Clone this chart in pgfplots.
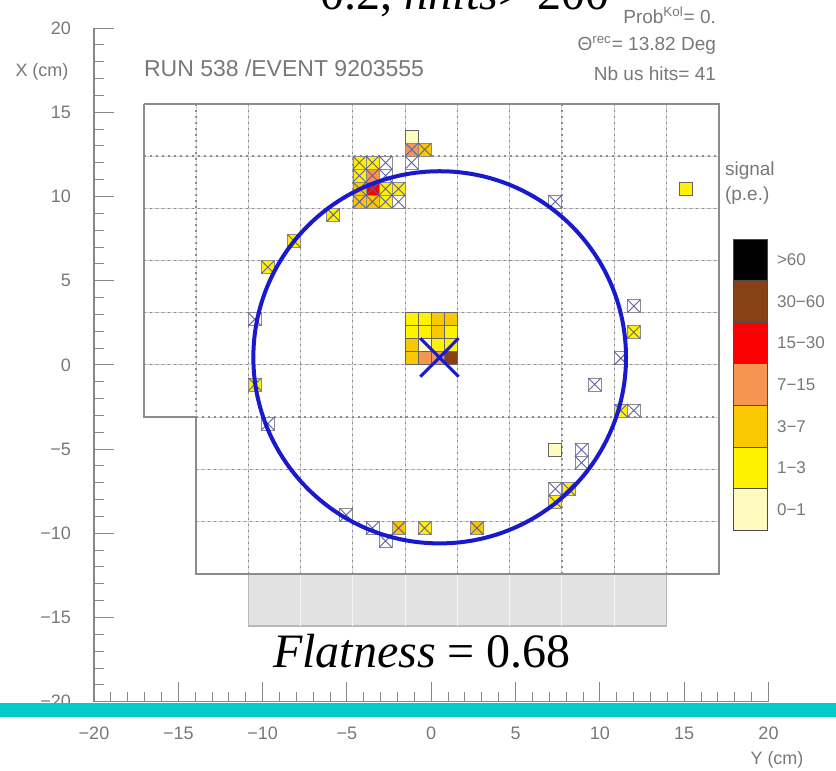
\documentclass[border=0pt]{standalone}
\usepackage{pgfplots}
\pgfplotsset{compat=1.18}
\usepackage{pgfplotstable}
\usepackage{fontspec}
\setmainfont{Liberation Sans}
\newfontfamily\serif{Liberation Serif}
\definecolor{axgray}{RGB}{135,135,135}
\definecolor{txtgray}{RGB}{120,120,120}
\definecolor{gridgray}{RGB}{140,140,140}
\definecolor{lightgrid}{RGB}{212,212,212}
\definecolor{boxgray}{RGB}{226,226,226}
\definecolor{pe0}{RGB}{255,250,190}
\definecolor{pe1}{RGB}{255,242,0}
\definecolor{pe2}{RGB}{250,200,0}
\definecolor{pe3}{RGB}{245,150,80}
\definecolor{pe4}{RGB}{250,0,0}
\definecolor{pe5}{RGB}{135,65,20}
\definecolor{pe6}{RGB}{0,0,0}
\definecolor{ringblue}{RGB}{25,25,205}
\definecolor{crossblue}{RGB}{95,95,160}
\definecolor{tealbar}{RGB}{0,204,204}

\pgfplotstableread{
Y X cls
-1.16 2.71 b
-0.39 2.71 b
0.39 2.71 c
1.16 2.71 c
-1.16 1.94 b
-0.39 1.94 b
0.39 1.94 c
1.16 1.94 b
-1.16 1.16 c
-0.39 1.16 a
0.39 1.16 b
1.16 1.16 b
-1.16 0.39 c
-0.39 0.39 d
0.39 0.39 d
1.16 0.39 f
-4.26 12.01 b
-3.49 12.01 b
-4.26 11.24 b
-3.49 11.24 d
-4.26 10.46 c
-3.49 10.46 e
-2.71 10.46 b
-1.94 10.46 b
-4.26 9.69 c
-3.49 9.69 c
-2.71 9.69 b
-1.16 13.56 a
-1.16 12.79 d
-0.39 12.79 c
-5.81 8.91 b
-8.14 7.36 b
-9.69 5.81 b
-10.46 -1.16 b
-1.94 -9.69 c
-0.39 -9.69 b
2.71 -9.69 c
8.14 -7.36 b
7.36 -8.14 b
7.36 -5.04 a
11.24 -2.71 b
12.01 1.94 b
15.11 10.46 b
}\padtable

\pgfplotstableread{
Y X
-4.26 12.01
-3.49 12.01
-2.71 12.01
-4.26 11.24
-3.49 11.24
-2.71 11.24
-4.26 10.46
-3.49 10.46
-2.71 10.46
-1.94 10.46
-4.26 9.69
-3.49 9.69
-2.71 9.69
-1.94 9.69
-1.16 12.79
-0.39 12.79
-1.16 12.01
-5.81 8.91
-8.14 7.36
-9.69 5.81
-10.46 2.71
-10.46 -1.16
-9.69 -3.49
-5.04 -8.91
-3.49 -9.69
-2.71 -10.46
-1.94 -9.69
-0.39 -9.69
2.71 -9.69
7.36 -7.36
8.14 -7.36
7.36 -8.14
8.91 -5.04
8.91 -5.81
9.69 -1.16
11.24 -2.71
12.01 -2.71
11.24 0.39
12.01 1.94
12.01 3.49
7.36 9.69
}\crosstable

\begin{document}
\begin{tikzpicture}[x=0.5pt,y=0.5pt]
\useasboundingbox (-94,-69.3) rectangle (742,701.7);
\begin{axis}[
  at={(0,0)}, anchor=south west,
  scale only axis, width=337.25pt, height=336.8pt,
  xmin=-20,xmax=20,ymin=-20,ymax=20,
  axis lines=left, axis line style={-, axgray, line width=0.6pt},
  tick align=inside,
  major tick length=10pt, minor tick length=5pt,
  tick style={axgray, line width=0.5pt},
  xtick={-20,-15,...,20}, ytick={-20,-15,...,20},
  minor tick num=4,
  xticklabels={−20,−15,−10,−5,0,5,10,15,20},
  yticklabels={−20,−15,−10,−5,0,5,10,15,20},
  ticklabel style={font=\fontsize{9}{10}\selectfont, text=txtgray},
  xticklabel style={yshift=-9pt},
  yticklabel style={xshift=-8pt},
  unbounded coords=jump,
  clip=false,
  clip marker paths=true,
]
% shaded region below the detector
\addplot[fill=boxgray, draw=gray!55, line width=0.6pt] coordinates {(-10.85,-12.4)(13.95,-12.4)(13.95,-15.5)(-10.85,-15.5)(-10.85,-12.4)};
\addplot[white!60!boxgray, line width=0.5pt] coordinates {
(-7.75,-12.4)(-7.75,-15.5) (nan,nan)
(-4.65,-12.4)(-4.65,-15.5) (nan,nan)
(-1.55,-12.4)(-1.55,-15.5) (nan,nan)
(1.55,-12.4)(1.55,-15.5) (nan,nan)
(4.65,-12.4)(4.65,-15.5) (nan,nan)
(7.75,-12.4)(7.75,-15.5) (nan,nan)
(10.85,-12.4)(10.85,-15.5)};
% cell grid: light solid
\addplot[lightgrid, line width=0.5pt] coordinates {
(-13.95,15.5)(-13.95,-3.1) (nan,nan)
(-10.85,15.5)(-10.85,-12.4) (nan,nan)
(-7.75,15.5)(-7.75,-12.4) (nan,nan)
(-4.65,15.5)(-4.65,-12.4) (nan,nan)
(-1.55,15.5)(-1.55,-12.4) (nan,nan)
(1.55,15.5)(1.55,-12.4) (nan,nan)
(4.65,15.5)(4.65,-12.4) (nan,nan)
(7.75,15.5)(7.75,-12.4) (nan,nan)
(10.85,15.5)(10.85,-12.4) (nan,nan)
(13.95,15.5)(13.95,-12.4) (nan,nan)
(-17.05,12.4)(17.05,12.4) (nan,nan)
(-17.05,9.3)(17.05,9.3) (nan,nan)
(-17.05,6.2)(17.05,6.2) (nan,nan)
(-17.05,3.1)(17.05,3.1) (nan,nan)
(-17.05,0)(17.05,0) (nan,nan)
(-13.95,-3.1)(17.05,-3.1) (nan,nan)
(-13.95,-6.2)(17.05,-6.2) (nan,nan)
(-13.95,-9.3)(17.05,-9.3)};
% cell grid: dotted
\addplot[gridgray, line width=0.6pt, dash pattern=on 1pt off 2pt] coordinates {
(-13.95,15.5)(-13.95,-3.1) (nan,nan)
(-10.85,15.5)(-10.85,-12.4) (nan,nan)
(-7.75,15.5)(-7.75,-12.4) (nan,nan)
(-4.65,15.5)(-4.65,-12.4) (nan,nan)
(-1.55,15.5)(-1.55,-12.4) (nan,nan)
(1.55,15.5)(1.55,-12.4) (nan,nan)
(4.65,15.5)(4.65,-12.4) (nan,nan)
(7.75,15.5)(7.75,-12.4) (nan,nan)
(10.85,15.5)(10.85,-12.4) (nan,nan)
(13.95,15.5)(13.95,-12.4) (nan,nan)
(-17.05,12.4)(17.05,12.4) (nan,nan)
(-17.05,9.3)(17.05,9.3) (nan,nan)
(-17.05,6.2)(17.05,6.2) (nan,nan)
(-17.05,3.1)(17.05,3.1) (nan,nan)
(-17.05,0)(17.05,0) (nan,nan)
(-13.95,-3.1)(17.05,-3.1) (nan,nan)
(-13.95,-6.2)(17.05,-6.2) (nan,nan)
(-13.95,-9.3)(17.05,-9.3)};
% detector outline
\addplot[gridgray, line width=0.8pt] coordinates {(-17.05,15.5)(17.05,15.5)(17.05,-12.4)(-13.95,-12.4)(-13.95,-3.1)(-17.05,-3.1)(-17.05,15.5)};
% hit pads
\addplot[scatter, only marks, mark size=3.25pt, point meta=explicit symbolic,
  scatter/classes={
    a={mark=square*, fill=pe0, draw=black!60},
    b={mark=square*, fill=pe1, draw=black!60},
    c={mark=square*, fill=pe2, draw=black!60},
    d={mark=square*, fill=pe3, draw=black!60},
    e={mark=square*, fill=pe4, draw=black!60},
    f={mark=square*, fill=pe5, draw=black!60},
    g={mark=square*, fill=pe6, draw=black!60}},
  mark options={line width=0.4pt}]
  table[x=Y, y=X, meta=cls] {\padtable};
% pads used in the ring fit
\addplot[only marks, mark=square, mark size=3.25pt, draw=black!45, mark options={line width=0.4pt}] table[x=Y, y=X] {\crosstable};
\addplot[only marks, mark=x, mark size=4.6pt, crossblue, mark options={line width=0.45pt}] table[x=Y, y=X] {\crosstable};
% fitted ring and its centre
\draw[ringblue, line width=2pt] (axis cs:0.5,0.45) circle [radius=11.05];
\addplot[ringblue, line width=1.5pt] coordinates {(-0.65,1.58)(1.62,-0.70) (nan,nan) (-0.65,-0.70)(1.62,1.58)};
\end{axis}

% colour scale
\fill[pe6] (639,421.1) rectangle (673,462.7);
\fill[pe5] (639,379.5) rectangle (673,421.1);
\fill[pe4] (639,337.9) rectangle (673,379.5);
\fill[pe3] (639,296.3) rectangle (673,337.9);
\fill[pe2] (639,254.7) rectangle (673,296.3);
\fill[pe1] (639,213.1) rectangle (673,254.7);
\fill[pe0] (639,171.5) rectangle (673,213.1);
\draw[black!70, line width=0.4pt] (639,171.5) rectangle (673,462.7);
\foreach \yy in {213.1,254.7,296.3,337.9,379.5,421.1} \draw[black!70, line width=0.4pt] (639,\yy) -- (673,\yy);
\begin{scope}[every node/.style={anchor=west, text=txtgray, font=\fontsize{8.5}{10}\selectfont}]
\node at (676,441.9) {>60};
\node at (676,400.3) {30−60};
\node at (676,358.7) {15−30};
\node at (676,317.1) {7−15};
\node at (676,275.5) {3−7};
\node at (676,233.9) {1−3};
\node at (676,192.3) {0−1};
\end{scope}
\node[anchor=base west, text=txtgray, font=\fontsize{9.5}{11}\selectfont] at (624,525.7) {signal};
\node[anchor=base west, text=txtgray, font=\fontsize{9.5}{11}\selectfont] at (624,500.7) {(p.e.)};

% header texts
\node[anchor=base west, text=txtgray, font=\fontsize{11.5}{13}\selectfont] at (43,624.7) {RUN 538 /EVENT 9203555};
\node[anchor=base east, text=txtgray, font=\fontsize{9.5}{12}\selectfont] at (629,677.7) {Prob\textsuperscript{Kol}= 0.};
\node[anchor=base east, text=txtgray, font=\fontsize{9.5}{12}\selectfont] at (629,650.7) {Θ\textsuperscript{rec}= 13.82 Deg};
\node[anchor=base east, text=txtgray, font=\fontsize{9.5}{12}\selectfont] at (629,620.7) {Nb us hits= 41};
\node[text=txtgray, font=\fontsize{9}{10}\selectfont] at (-52,629.7) {X (cm)};
\node[text=txtgray, font=\fontsize{9}{10}\selectfont] at (683,-58.3) {Y (cm)};

% overlaid captions
\node[anchor=base, font=\serif\fontsize{24}{24}\selectfont] at (371,691.7) {0.2, \textit{nhits}> 200};
\node[anchor=base, font=\serif\fontsize{24}{24}\selectfont] at (328,33.7) {\textit{Flatness} = 0.68};
\fill[tealbar] (-94,-1.3) rectangle (742,-15.3);
\end{tikzpicture}
\end{document}
